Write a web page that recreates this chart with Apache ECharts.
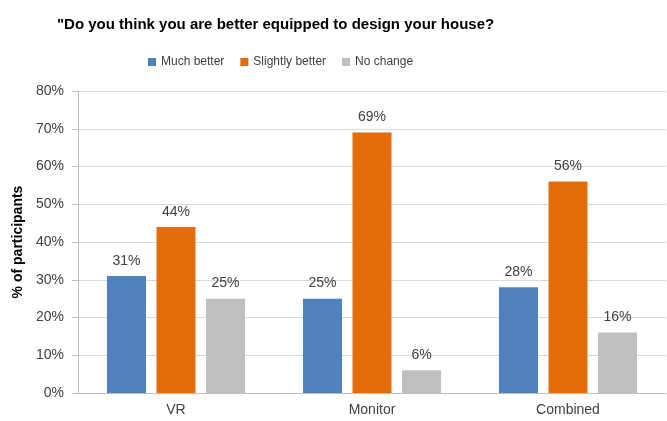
<!DOCTYPE html>
<html>
<head>
<meta charset="utf-8">
<script src="https://cdn.jsdelivr.net/npm/echarts@6/dist/echarts.min.js"></script>
<style>
  html, body { margin: 0; padding: 0; background: #fff; }
</style>
</head>
<body>
<div id="chart" style="width: 667px; height: 421px;"></div>
<script>
  // data
  var categories = ['VR', 'Monitor', 'Combined'];
  var muchBetter = [31, 25, 28];
  var slightlyBetter = [44, 69, 56];
  var noChange = [25, 6, 16];

  var font = '"Liberation Sans", Arial, sans-serif';

  function barSeries(name, data, color) {
    return {
      name: name,
      type: 'bar',
      data: data,
      barWidth: 39,
      barGap: '27%',
      itemStyle: { color: color },
      label: {
        show: true,
        position: 'top',
        distance: 8,
        formatter: '{c}%',
        color: '#404040',
        fontSize: 14,
        fontFamily: font
      }
    };
  }

  var myChart = echarts.init(document.getElementById('chart'));
  myChart.setOption({
    animation: false,
    textStyle: { fontFamily: font },
    title: {
      text: '"Do you think you are better equipped to design your house?',
      left: 52,
      top: 12,
      textStyle: { fontSize: 15, fontWeight: 'bold', color: '#000', fontFamily: font }
    },
    legend: {
      left: 143,
      top: 51,
      itemWidth: 8,
      itemHeight: 8,
      itemGap: 16,
      icon: 'rect',
      textStyle: { fontSize: 12, color: '#404040', fontFamily: font },
      data: ['Much better', 'Slightly better', 'No change']
    },
    grid: { left: 78, right: 1, top: 91, bottom: 28 },
    xAxis: {
      type: 'category',
      data: categories,
      axisLine: { lineStyle: { color: '#bfbfbf', width: 1 } },
      axisTick: { show: false },
      axisLabel: { color: '#404040', fontSize: 14, margin: 10 }
    },
    yAxis: {
      type: 'value',
      min: 0,
      max: 80,
      interval: 10,
      name: '% of participants',
      nameLocation: 'middle',
      nameGap: 50,
      nameTextStyle: { fontSize: 14, fontWeight: 'bold', color: '#000' },
      axisLine: { show: true, lineStyle: { color: '#bfbfbf' } },
      axisTick: { show: true, length: 6, lineStyle: { color: '#bfbfbf' } },
      axisLabel: { formatter: '{value}%', color: '#404040', fontSize: 14, margin: 14 },
      splitLine: { lineStyle: { color: '#d9d9d9' } }
    },
    series: [
      barSeries('Much better', muchBetter, '#4f81bd'),
      barSeries('Slightly better', slightlyBetter, '#e46c0a'),
      barSeries('No change', noChange, '#bfbfbf')
    ]
  });
</script>
</body>
</html>
